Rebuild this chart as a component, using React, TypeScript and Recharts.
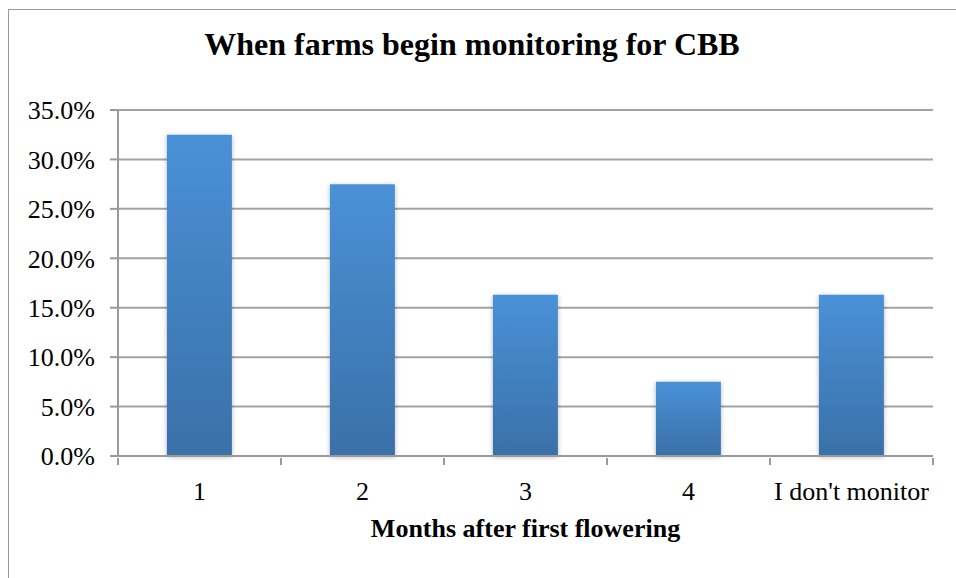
import { BarChart, Bar, XAxis, YAxis, CartesianGrid } from "recharts";

const categories = ["1", "2", "3", "4", "I don't monitor"];
const shares = [0.325, 0.275, 0.163, 0.075, 0.163];
const yTicks = [0, 0.05, 0.1, 0.15, 0.2, 0.25, 0.3, 0.35];

const data = categories.map((month, i) => ({ month, share: shares[i] }));

const serif = "'Liberation Serif', 'Times New Roman', serif";
const axisGray = "#9a9a9a";

const MonthTick = (props: any) => {
  const { x, y, payload, index } = props;
  const half = payload?.offset ?? 81.5;
  const last = index === categories.length - 1;
  return (
    <g>
      <line x1={x - half} x2={x - half} y1={y - 16} y2={y - 9} stroke={axisGray} strokeWidth={2} />
      {last && (
        <line x1={x + half} x2={x + half} y1={y - 16} y2={y - 9} stroke={axisGray} strokeWidth={2} />
      )}
      <text x={x} y={y + 26} textAnchor="middle" fontSize={26} fontFamily={serif} fill="#000">
        {payload.value}
      </text>
    </g>
  );
};

export default function App() {
  return (
    <div style={{ position: "absolute", left: 0, top: 0, width: 956, height: 578, overflow: "hidden", background: "#fff" }}>
      <div
        style={{
          position: "absolute",
          left: 8,
          top: 9,
          width: 960,
          height: 580,
          borderLeft: "1.5px solid #999",
          borderTop: "1.5px solid #999",
        }}
      />
      <div
        style={{
          position: "absolute",
          left: 0,
          width: 944,
          top: 28,
          textAlign: "center",
          fontFamily: serif,
          fontWeight: "bold",
          fontSize: 32,
          lineHeight: 1,
        }}
      >
        When farms begin monitoring for CBB
      </div>
      <div
        style={{
          position: "absolute",
          left: 118,
          width: 815,
          top: 516,
          textAlign: "center",
          fontFamily: serif,
          fontWeight: "bold",
          fontSize: 26,
          lineHeight: 1,
        }}
      >
        Months after first flowering
      </div>
      <div style={{ position: "absolute", left: 0, top: 0 }}>
        <BarChart
          width={956}
          height={578}
          data={data}
          margin={{ top: 110, right: 23, bottom: 0, left: 0 }}
          barCategoryGap="30%"
        >
          <defs>
            <linearGradient id="barFill" x1="0" y1="0" x2="0" y2="1">
              <stop offset="0%" stopColor="#4a91d7" />
              <stop offset="100%" stopColor="#3a70a8" />
            </linearGradient>
            <filter id="barShadow" x="-20%" y="-10%" width="140%" height="120%">
              <feDropShadow dx="0" dy="1" stdDeviation="2.5" floodColor="#000" floodOpacity="0.28" />
            </filter>
          </defs>
          <CartesianGrid vertical={false} stroke="#a3a3a3" strokeWidth={2} />
          <XAxis
            dataKey="month"
            height={122}
            stroke={axisGray}
            strokeWidth={2}
            tickLine={false}
            tickSize={16}
            tick={<MonthTick />}
            interval={0}
          />
          <YAxis
            width={118}
            domain={[0, 0.35]}
            ticks={yTicks}
            tickFormatter={(v: number) => (v * 100).toFixed(1) + "%"}
            stroke={axisGray}
            strokeWidth={2}
            tickSize={8}
            tickMargin={15}
            tick={{ fontSize: 26, fontFamily: serif, fill: "#000" }}
          />
          <Bar dataKey="share" fill="url(#barFill)" filter="url(#barShadow)" isAnimationActive={false} />
        </BarChart>
      </div>
    </div>
  );
}
